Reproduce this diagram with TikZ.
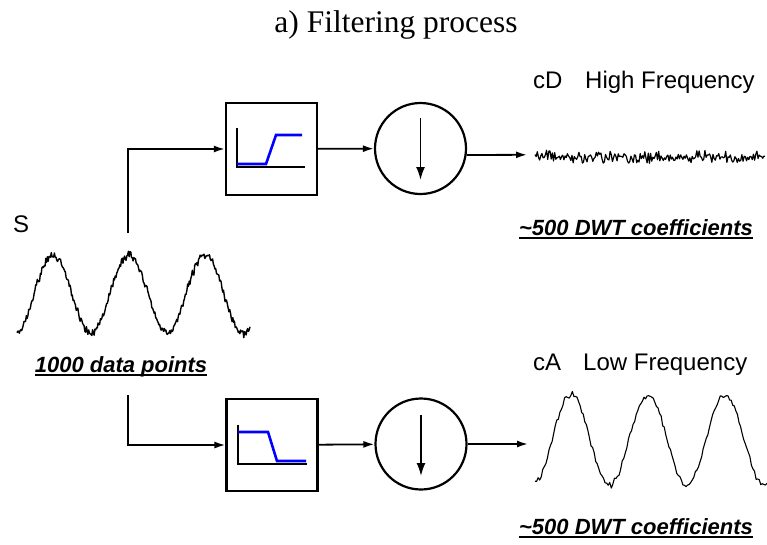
\documentclass[tikz,border=0pt]{standalone}
\usepackage{fontspec}
\setmainfont{Liberation Serif}
\setsansfont{Liberation Sans}
\usetikzlibrary{arrows.meta}
\newcommand{\myul}[1]{\setbox0\hbox{#1}\rlap{\rule[-0.2em]{\wd0}{0.1em}}\box0}
\begin{document}
\begin{tikzpicture}[x=1pt,y=-1pt,
 filt/.style={draw, line width=2.2pt, minimum width=91pt, minimum height=92pt, inner sep=0},
 down/.style={draw, circle, line width=2.2pt, minimum size=91pt, inner sep=0},
 arr/.style={line width=1.8pt, -{Latex[length=11pt,width=7pt]}},
 lab/.style={font=\sffamily\fontsize{24}{28}\selectfont, inner sep=0, anchor=base west},
 coef/.style={font=\sffamily\bfseries\itshape\fontsize{22}{26}\selectfont, inner sep=0, anchor=base},
 sig/.style={line width=1.4pt, line join=round},
 resp/.style={blue, line width=2.6pt},
 axis/.style={line width=1.8pt}]
\useasboundingbox (0,0) rectangle (767,544);
\pgfmathsetseed{11}
% title
\node[font=\fontsize{31.5}{35}\selectfont, inner sep=0, anchor=base] (title) at (396,32) {a) Filtering process};
% input signal
\node[lab] (S) at (13,232) {S};
\draw[sig] plot[domain=17:250, samples=300, variable=\t] (\t, {294 - 39*cos(4.7368*(\t-53)) + 2.6*rand + 2.6*rand});
\node[coef] (n1000) at (121,372) {\myul{1000 data points}};
\coordinate (s1) at (128,233);
\coordinate (s2) at (128,395);
% upper branch
\node[filt] (f1) at (271.5,149) {};
\draw[axis] (237,128) -- (237,167) -- (305,167);
\draw[resp] (237,164) -- (266,164) -- (276,135) -- (302,135);
\node[down] (c1) at (420.5,148.5) {};
\draw[line width=1.8pt, -{Latex[length=13pt,width=9pt]}] (420.5,118) -- (420.5,180);
\draw[arr] (s1) |- (f1.west);
\draw[arr] (f1) -- (c1);
\coordinate (d1) at (527,154.8);
\draw[arr] (c1.-8) -- (d1);
\draw[sig, line width=1.2pt] plot[domain=535:765, samples=200, variable=\t] (\t, {157 + 3.6*rand + 3.6*rand});
\node[lab] (cD) at (533,88) {cD};
\node[lab] (hf) at (585,88) {High Frequency};
\node[coef] (k1) at (636,235) {\myul{\textasciitilde 500 DWT coefficients}};
% lower branch
\node[filt] (f2) at (272,445) {};
\draw[axis] (238,425) -- (238,464) -- (307,464);
\draw[resp] (238,432) -- (268,432) -- (277,461) -- (306,461);
\node[down] (c2) at (421,444) {};
\draw[line width=1.8pt, -{Latex[length=13pt,width=9pt]}] (421,415) -- (421,476);
\draw[arr] (s2) |- (f2.west);
\draw[arr] (f2) -- (c2);
\coordinate (d2) at (528,444);
\draw[arr] (c2) -- (d2);
\draw[sig, line width=1.1pt] plot[domain=535:767, samples=150, variable=\t] (\t, {440 - 45*cos(4.6753*(\t-571)) + 2*rand + 2*rand});
\node[lab] (cA) at (533,370) {cA};
\node[lab] (lf) at (583,370) {Low Frequency};
\node[coef] (k2) at (636,534) {\myul{\textasciitilde 500 DWT coefficients}};
\end{tikzpicture}
\end{document}
